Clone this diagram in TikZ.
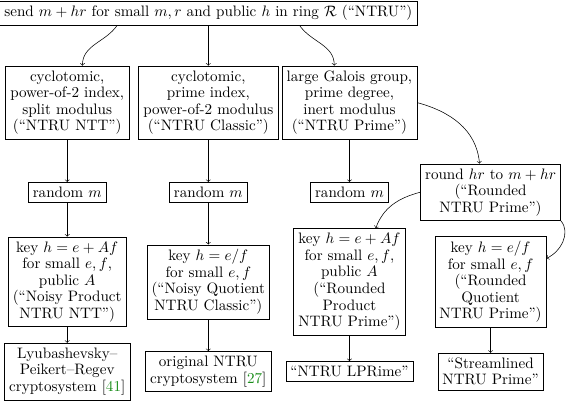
\documentclass[tikz,border=0pt]{standalone}
\usetikzlibrary{arrows, positioning}
\definecolor{citegreen}{rgb}{0.1,0.55,0.1}
\tikzstyle{stepbox} = [rectangle, draw=black, align=center, font=\fontsize{10.95}{12}\selectfont]
\tikzstyle{arrow} = [thin,->,>=to]
\newcommand{\citenum}[1]{[\textcolor{citegreen}{#1}]}

\begin{document}
\begin{tikzpicture}[x=3.59cm, y=-2.28cm]
\useasboundingbox (-1.71cm,0.33cm) rectangle (12.74cm,-9.86cm);

\node (send) [stepbox] at (1,0) {send $m+hr$ for small $m,r$ and public $h$ in ring $\mathcal{R}$ (``NTRU'')};

\node (ntt) [stepbox] at (0,1) {cyclotomic,\\ power-of-2 index,\\ split modulus\\ (``NTRU NTT'')};
\node (classic) [stepbox] at (1,1) {cyclotomic,\\ prime index,\\ power-of-2 modulus\\ (``NTRU Classic'')};
\node (prime) [stepbox] at (2,1) {large Galois group,\\ prime degree,\\ inert modulus\\ (``NTRU Prime'')};

\node (randntt) [stepbox] at (0,2) {random $m$};
\node (randclassic) [stepbox] at (1,2) {random $m$};
\node (randprime) [stepbox] at (2,2) {random $m$};
\node (round) [stepbox] at (3,2) {round $hr$ to $m+hr$\\ (``Rounded\\ NTRU Prime'')};

\node (keyntt) [stepbox] at (0,3) {key $h=e+Af$\\ for small $e,f$,\\ public $A$\\ (``Noisy Product\\ NTRU NTT'')};
\node (keyclassic) [stepbox] at (1,3) {key $h=e/f$\\ for small $e,f$\\ (``Noisy Quotient\\ NTRU Classic'')};
\node (keyprod) [stepbox] at (2,3) {key $h=e+Af$\\ for small $e,f$,\\ public $A$\\ (``Rounded\\ Product\\ NTRU Prime'')};
\node (keyquot) [stepbox] at (3,3) {key $h=e/f$\\ for small $e,f$\\ (``Rounded\\ Quotient\\ NTRU Prime'')};

\node (lpr) [stepbox] at (0,4) {Lyubashevsky--\\ Peikert--Regev\\ cryptosystem \citenum{41}};
\node (orig) [stepbox] at (1,4) {original NTRU\\ cryptosystem \citenum{27}};
\node (lprime) [stepbox] at (2,4) {``NTRU LPRime''};
\node (stream) [stepbox] at (3,4) {``Streamlined\\ NTRU Prime''};

\draw [arrow] ([xshift=-66pt]send.south) to[out=-125,in=90] ([xshift=11pt]ntt.north);
\draw [arrow] (send.south -| classic.north) -- (classic);
\draw [arrow] ([xshift=66pt]send.south) to[out=-55,in=90] ([xshift=-11pt]prime.north);

\draw [arrow] (ntt) -- (randntt);
\draw [arrow] (classic) -- (randclassic);
\draw [arrow] (prime) -- (randprime);
\draw [arrow] (prime.east) to[out=-15,in=95] ([xshift=-8pt]round.north);

\draw [arrow] (randntt) -- (keyntt);
\draw [arrow] (randclassic) -- (keyclassic);
\draw [arrow] (round.west) to[out=195,in=70] ([xshift=19pt]keyprod.north);
\draw [arrow] (round.south east) to[out=-50,in=25] ([yshift=17pt]keyquot.east);

\draw [arrow] (keyntt) -- (lpr);
\draw [arrow] (keyclassic) -- (orig);
\draw [arrow] (keyprod) -- (lprime);
\draw [arrow] (keyquot) -- (stream);
\end{tikzpicture}
\end{document}
